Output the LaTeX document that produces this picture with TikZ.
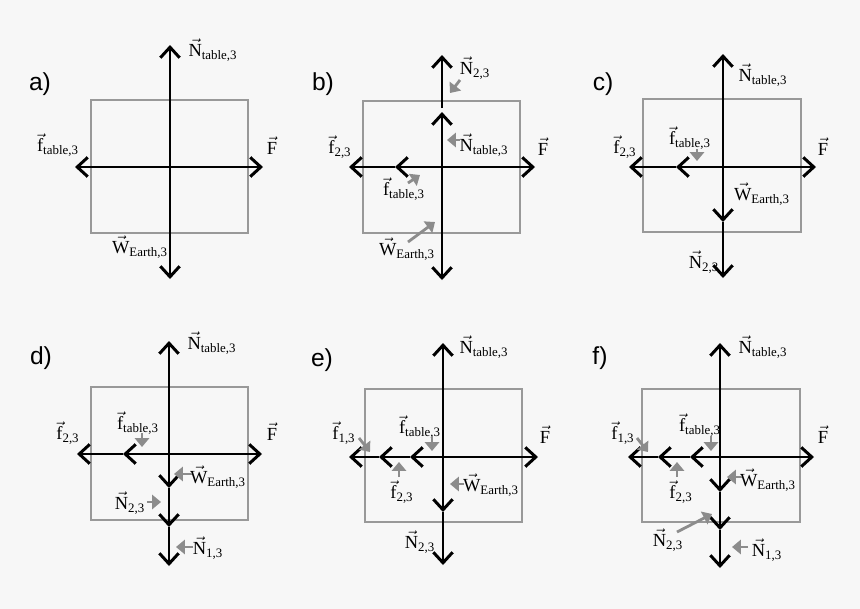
\documentclass[tikz,border=0pt]{standalone}
\usepackage{fontspec}
\usepackage{amsmath}
\setmainfont{Liberation Serif}
\newfontfamily\panelfont{Liberation Sans}
\usetikzlibrary{arrows.meta}
\definecolor{bgcol}{HTML}{F7F7F7}
\definecolor{pointer}{HTML}{8C8C8C}
\newcommand{\vlab}[2]{$\vec{\text{#1}}_{\text{#2}}$}
\tikzset{
  force/.style={line width=1.7pt,-{Straight Barb[length=6pt,width=11pt,line width=1.7pt]}},
  hint/.style={draw=pointer,line width=1.6pt,-{Triangle[length=5pt,width=8pt]}},
  block/.style={draw=gray!80,line width=0.7pt},
  lab/.style={font=\fontsize{10.5}{11}\selectfont,inner sep=0pt},
  panel/.style={font=\panelfont\fontsize{14}{14}\selectfont,inner sep=0pt}
}
\begin{document}
\begin{tikzpicture}[x=0.02cm,y=-0.02cm]
  \fill[bgcol] (0,0) rectangle (860,609);
  \useasboundingbox (0,0) rectangle (860,609);

  % a)
  \node[panel] (pa) at (40,84) {a)};
  \draw[block] (91,100) rectangle (248,233);
  \coordinate (ca) at (170,167);
  \draw[force] (ca) -- (170,45);
  \draw[force] (ca) -- (170,279);
  \draw[force] (ca) -- (75,167);
  \draw[force] (ca) -- (263,167);
  \node[lab] (an) at (213,50) {\vlab{N}{table,3}};
  \node[lab] (af) at (58,145) {\vlab{f}{table,3}};
  \node[lab] (aF) at (272,146) {$\vec{\text{F}}$};
  \node[lab] (aw) at (140,247) {\vlab{W}{Earth,3}};

  % b)
  \node[panel] (pb) at (323,84) {b)};
  \draw[block] (363,101) rectangle (520,233);
  \coordinate (cb) at (442,167);
  \draw[force] (cb) -- (442,112);
  \draw[force] (442,108) -- (442,55);
  \draw[force] (cb) -- (442,280);
  \draw[force] (cb) -- (395,167);
  \draw[force] (395,167) -- (349,167);
  \draw[force] (cb) -- (535,167);
  \node[lab] (bn2) at (475,68) {\vlab{N}{2,3}};
  \node[lab] (bnt) at (484,145) {\vlab{N}{table,3}};
  \node[lab] (bF) at (543,147) {$\vec{\text{F}}$};
  \node[lab] (bf2) at (340,147) {\vlab{f}{2,3}};
  \node[lab] (bft) at (404,189) {\vlab{f}{table,3}};
  \node[lab] (bw) at (407,249) {\vlab{W}{Earth,3}};
  \draw[hint] (460,80) -- (450,93);
  \draw[hint] (460,140) -- (447,140);
  \draw[hint] (408,183) -- (420,175);
  \draw[hint] (408,242) -- (435,222);

  % c)
  \node[panel] (pc) at (603,84) {c)};
  \draw[block] (643,99) rectangle (801,232);
  \coordinate (cc) at (723,167);
  \draw[force] (cc) -- (723,54);
  \draw[force] (cc) -- (723,222);
  \draw[force] (723,222) -- (723,278);
  \draw[force] (cc) -- (676,167);
  \draw[force] (676,167) -- (629,167);
  \draw[force] (cc) -- (816,167);
  \node[lab] (cnt) at (763,75) {\vlab{N}{table,3}};
  \node[lab] (cft) at (690,138) {\vlab{f}{table,3}};
  \node[lab] (cf2) at (625,147) {\vlab{f}{2,3}};
  \node[lab] (cF) at (823,147) {$\vec{\text{F}}$};
  \node[lab] (cw) at (762,194) {\vlab{W}{Earth,3}};
  \node[lab] (cn2) at (704,262) {\vlab{N}{2,3}};
  \draw[hint] (697,149) -- (697,161);

  % d)
  \node[panel] (pd) at (41,358) {d)};
  \draw[block] (91,387) rectangle (248,520);
  \coordinate (cd) at (169,454);
  \draw[force] (cd) -- (169,341);
  \draw[force] (cd) -- (169,488);
  \draw[force] (169,488) -- (169,527);
  \draw[force] (169,527) -- (169,566);
  \draw[force] (cd) -- (123,454);
  \draw[force] (123,454) -- (77,454);
  \draw[force] (cd) -- (262,454);
  \node[lab] (dnt) at (212,343) {\vlab{N}{table,3}};
  \node[lab] (dft) at (138,423) {\vlab{f}{table,3}};
  \node[lab] (df2) at (68,433) {\vlab{f}{2,3}};
  \node[lab] (dF) at (272,432) {$\vec{\text{F}}$};
  \node[lab] (dw) at (218,477) {\vlab{W}{Earth,3}};
  \node[lab] (dn2) at (130,503) {\vlab{N}{2,3}};
  \node[lab] (dn1) at (208,548) {\vlab{N}{1,3}};
  \draw[hint] (142,433) -- (142,447);
  \draw[hint] (192,474) -- (174,474);
  \draw[hint] (147,502) -- (161,502);
  \draw[hint] (193,547) -- (176,547);

  % e)
  \node[panel] (pe) at (322,360) {e)};
  \draw[block] (365,389) rectangle (522,522);
  \coordinate (ce) at (443,457);
  \draw[force] (ce) -- (443,343);
  \draw[force] (ce) -- (443,512);
  \draw[force] (443,512) -- (443,565);
  \draw[force] (ce) -- (410,457);
  \draw[force] (410,457) -- (379,457);
  \draw[force] (379,457) -- (349,457);
  \draw[force] (ce) -- (538,457);
  \node[lab] (ent) at (484,347) {\vlab{N}{table,3}};
  \node[lab] (ef1) at (344,433) {\vlab{f}{1,3}};
  \node[lab] (eft) at (420,427) {\vlab{f}{table,3}};
  \node[lab] (eF) at (545,435) {$\vec{\text{F}}$};
  \node[lab] (ef2) at (402,492) {\vlab{f}{2,3}};
  \node[lab] (ew) at (491,485) {\vlab{W}{Earth,3}};
  \node[lab] (en2) at (420,542) {\vlab{N}{2,3}};
  \draw[hint] (359,438) -- (370,452);
  \draw[hint] (432,436) -- (432,451);
  \draw[hint] (399,477) -- (399,462);
  \draw[hint] (464,484) -- (450,484);

  % f)
  \node[panel] (pf) at (600,358) {f)};
  \draw[block] (642,389) rectangle (800,522);
  \coordinate (cf) at (720,457);
  \draw[force] (cf) -- (720,343);
  \draw[force] (cf) -- (720,492);
  \draw[force] (720,492) -- (720,530);
  \draw[force] (720,530) -- (720,568);
  \draw[force] (cf) -- (690,457);
  \draw[force] (690,457) -- (658,457);
  \draw[force] (658,457) -- (628,457);
  \draw[force] (cf) -- (814,457);
  \node[lab] (fnt) at (763,347) {\vlab{N}{table,3}};
  \node[lab] (ff1) at (623,433) {\vlab{f}{1,3}};
  \node[lab] (fft) at (700,425) {\vlab{f}{table,3}};
  \node[lab] (fF) at (823,435) {$\vec{\text{F}}$};
  \node[lab] (ff2) at (681,492) {\vlab{f}{2,3}};
  \node[lab] (fw) at (768,480) {\vlab{W}{Earth,3}};
  \node[lab] (fn2) at (668,540) {\vlab{N}{2,3}};
  \node[lab] (fn1) at (767,550) {\vlab{N}{1,3}};
  \draw[hint] (637,438) -- (648,452);
  \draw[hint] (711,436) -- (711,451);
  \draw[hint] (677,477) -- (677,462);
  \draw[hint] (742,477) -- (727,477);
  \draw[hint] (677,532) -- (712,514);
  \draw[hint] (748,547) -- (732,547);
\end{tikzpicture}
\end{document}
